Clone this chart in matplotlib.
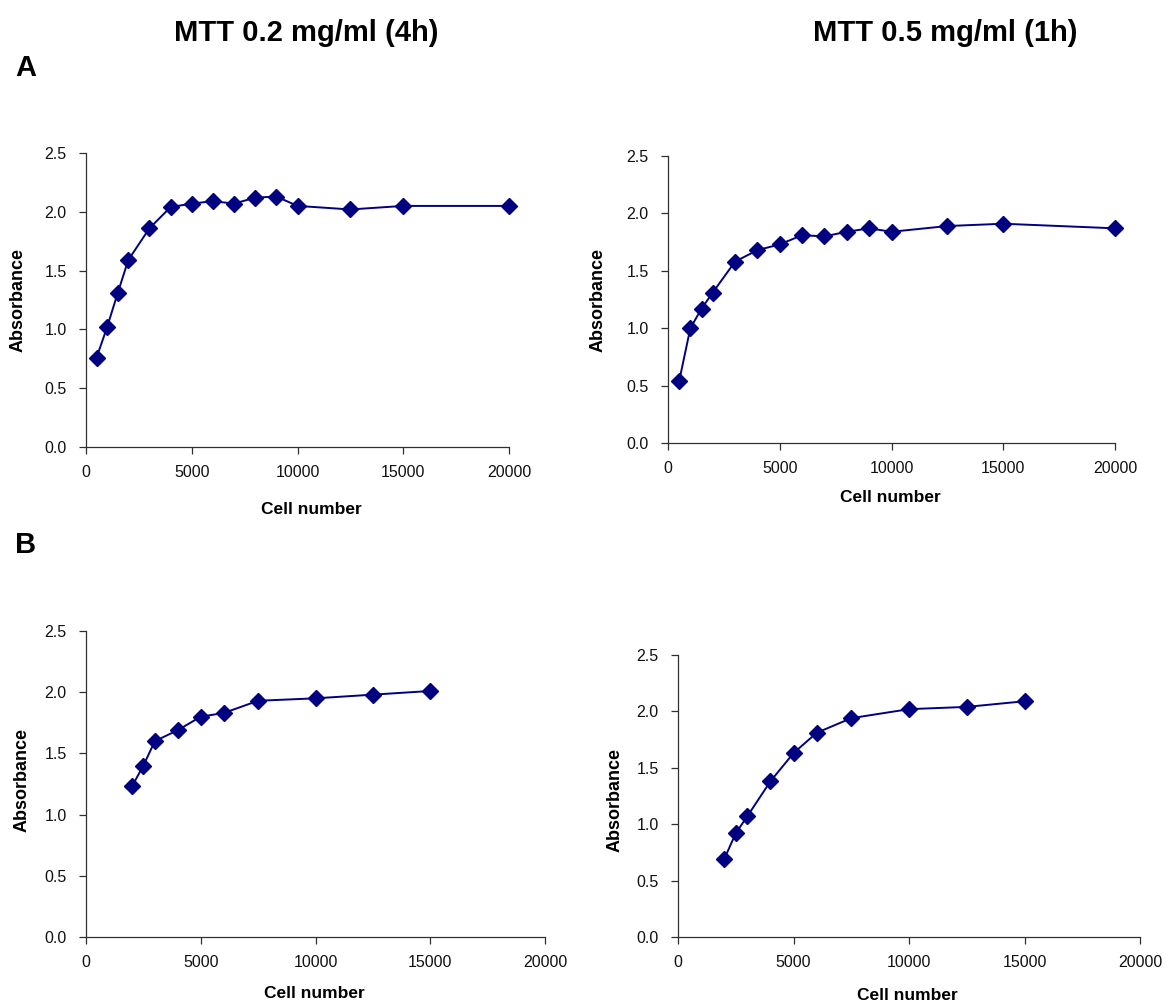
import matplotlib.pyplot as plt

plt.rcParams['font.family'] = ['Liberation Sans', 'DejaVu Sans']

# panel A, MTT 0.2 mg/ml (4h)
cells_a1 = [500, 1000, 1500, 2000, 3000, 4000, 5000, 6000, 7000, 8000, 9000, 10000, 12500, 15000, 20000]
abs_a1 = [0.76, 1.02, 1.31, 1.59, 1.86, 2.04, 2.07, 2.09, 2.07, 2.12, 2.13, 2.05, 2.02, 2.05, 2.05]

# panel A, MTT 0.5 mg/ml (1h)
cells_a2 = [500, 1000, 1500, 2000, 3000, 4000, 5000, 6000, 7000, 8000, 9000, 10000, 12500, 15000, 20000]
abs_a2 = [0.54, 1.00, 1.17, 1.31, 1.58, 1.68, 1.73, 1.81, 1.80, 1.84, 1.87, 1.84, 1.89, 1.91, 1.87]

# panel B, MTT 0.2 mg/ml (4h)
cells_b1 = [2000, 2500, 3000, 4000, 5000, 6000, 7500, 10000, 12500, 15000]
abs_b1 = [1.23, 1.40, 1.60, 1.69, 1.80, 1.83, 1.93, 1.95, 1.98, 2.01]

# panel B, MTT 0.5 mg/ml (1h)
cells_b2 = [2000, 2500, 3000, 4000, 5000, 6000, 7500, 10000, 12500, 15000]
abs_b2 = [0.69, 0.92, 1.07, 1.38, 1.63, 1.81, 1.94, 2.02, 2.04, 2.09]

W, H = 1171, 1006
fig = plt.figure(figsize=(W / 100, H / 100), dpi=100)


def px_axes(x0, x1, ytop, ybot):
    return fig.add_axes([x0 / W, 1 - ybot / H, (x1 - x0) / W, (ybot - ytop) / H])


def style(ax, x, y):
    ax.plot(x, y, color='#000080', lw=1.4, marker='D', ms=8, mfc='#000080', mec='#000080')
    ax.set_xlim(0, 20000)
    ax.set_ylim(0, 2.5)
    ax.set_xticks([0, 5000, 10000, 15000, 20000])
    ax.set_yticks([0, 0.5, 1.0, 1.5, 2.0, 2.5])
    ax.set_yticklabels(['0.0', '0.5', '1.0', '1.5', '2.0', '2.5'])
    for s in ['top', 'right']:
        ax.spines[s].set_visible(False)
    for s in ['left', 'bottom']:
        ax.spines[s].set_color('#303030')
        ax.spines[s].set_linewidth(0.9)
    ax.tick_params(direction='out', length=5, width=0.9, color='#303030', labelsize=11.5)
    ax.tick_params(axis='x', pad=8)
    ax.tick_params(axis='y', pad=9)
    for lab in ax.get_xticklabels() + ax.get_yticklabels():
        lab.set_color('#111111')
    for line in ax.get_lines():
        line.set_clip_on(False)


ax1 = px_axes(86, 509, 153, 447)
style(ax1, cells_a1, abs_a1)
ax2 = px_axes(668, 1115, 156, 443)
style(ax2, cells_a2, abs_a2)
ax3 = px_axes(86, 545, 631, 937)
style(ax3, cells_b1, abs_b1)
ax4 = px_axes(678, 1140, 655, 937)
style(ax4, cells_b2, abs_b2)

title_font = ['Liberation Sans Narrow', 'Liberation Sans', 'DejaVu Sans']
fig.text(306 / W, 1 - 33 / H, 'MTT 0.2 mg/ml (4h)', ha='center', va='center',
         fontsize=21, fontweight='bold', family=title_font)
fig.text(945 / W, 1 - 33 / H, 'MTT 0.5 mg/ml (1h)', ha='center', va='center',
         fontsize=21, fontweight='bold', family=title_font)
fig.text(26 / W, 1 - 68 / H, 'A', ha='center', va='center',
         fontsize=21, fontweight='bold', family=title_font)
fig.text(26 / W, 1 - 545 / H, 'B', ha='center', va='center',
         fontsize=21, fontweight='bold', family=title_font)

# axis labels
for xc, yc in [(311, 509), (890, 498), (314, 994), (907, 996)]:
    fig.text(xc / W, 1 - yc / H, 'Cell number', ha='center', va='center',
             fontsize=12.5, fontweight='bold')
for xc, yc in [(18, 300), (598, 300), (22, 780), (615, 800)]:
    fig.text(xc / W, 1 - yc / H, 'Absorbance', ha='center', va='center',
             fontsize=13, fontweight='bold', rotation=90)

fig.savefig('out.png', dpi=100)
